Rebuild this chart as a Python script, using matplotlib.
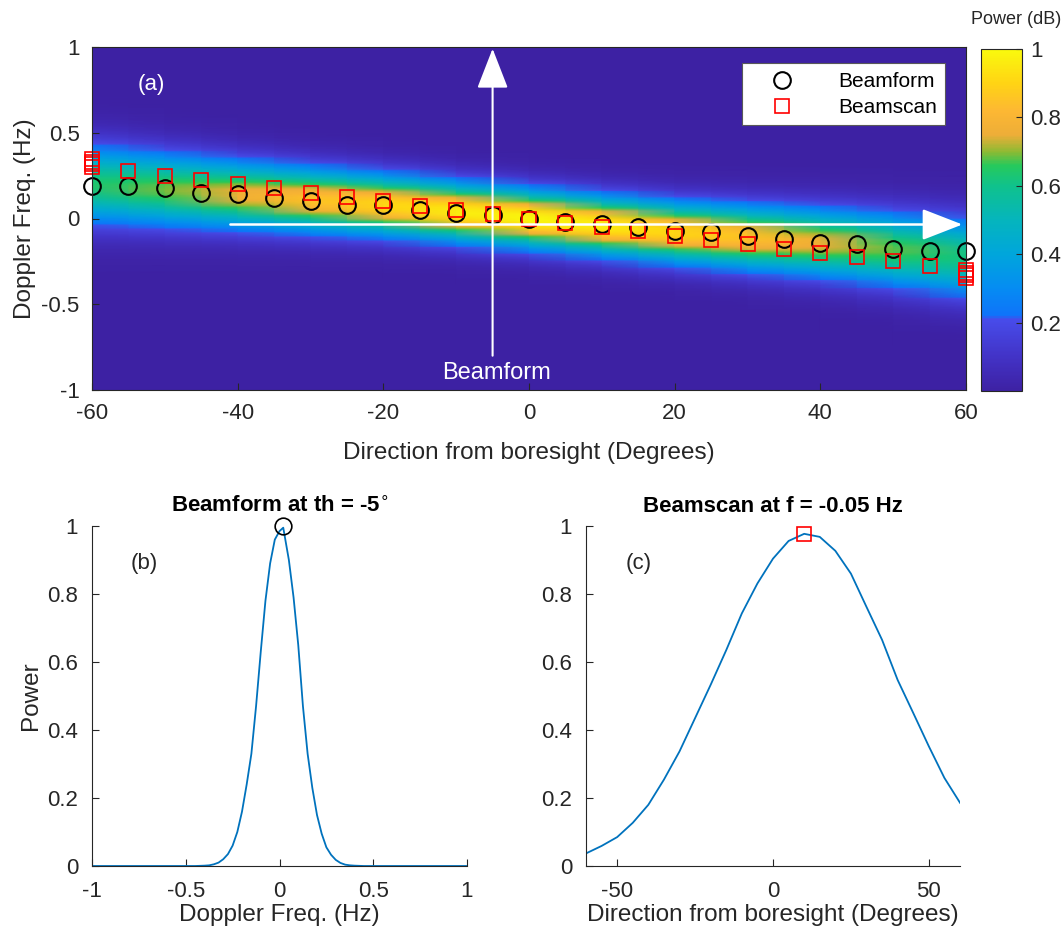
import numpy as np
import matplotlib
matplotlib.use("Agg")
import matplotlib.pyplot as plt
from matplotlib.colors import LinearSegmentedColormap

plt.rcParams['font.family'] = ['Liberation Sans', 'DejaVu Sans']
plt.rcParams['axes.unicode_minus'] = False

# ---- panel (a): ridge of the power map, one entry per 10 deg column ----
map_theta = [-60, -50, -40, -30, -20, -10, 0, 10, 20, 30, 40, 50, 60]
ridge_center = [0.20, 0.17, 0.14, 0.11, 0.08, 0.04, 0.0, -0.04, -0.08, -0.11, -0.14, -0.18, -0.23]
ridge_peak = [0.63, 0.69, 0.77, 0.85, 0.91, 0.97, 1.0, 0.97, 0.91, 0.85, 0.76, 0.68, 0.61]
ridge_width = [0.16, 0.148, 0.137, 0.128, 0.121, 0.117, 0.115, 0.117, 0.121, 0.128, 0.137, 0.148, 0.16]

# beamform maxima (circles)
bf_theta = [-60, -55, -50, -45, -40, -35, -30, -25, -20, -15, -10, -5, 0,
            5, 10, 15, 20, 25, 30, 35, 40, 45, 50, 55, 60]
bf_freq = [0.19, 0.19, 0.175, 0.15, 0.145, 0.12, 0.10, 0.077, 0.077, 0.05, 0.03, 0.02, 0.0,
           -0.02, -0.03, -0.05, -0.07, -0.08, -0.10, -0.12, -0.145, -0.15, -0.175, -0.19, -0.19]

# beamscan maxima (squares)
bs_theta = [-60, -60, -60, -60, -55, -50, -45, -40, -35, -30, -25, -20, -15, -10, -5, 0,
            5, 10, 15, 20, 25, 30, 35, 40, 45, 50, 55, 60, 60, 60, 60]
bs_freq = [0.345, 0.33, 0.315, 0.30, 0.275, 0.25, 0.225, 0.20, 0.175, 0.15, 0.125, 0.10,
           0.075, 0.05, 0.025, 0.0, -0.025, -0.05, -0.075, -0.10, -0.125, -0.15, -0.175,
           -0.20, -0.225, -0.25, -0.275, -0.30, -0.315, -0.33, -0.345]

# ---- panel (b): beamform at th = -5 ----
doppler_f = [-1.0, -0.45, -0.425, -0.4, -0.375, -0.35, -0.325, -0.3, -0.275, -0.25, -0.225,
             -0.2, -0.175, -0.15, -0.125, -0.1, -0.075, -0.05, -0.025, 0.0, 0.02, 0.05,
             0.075, 0.1, 0.125, 0.15, 0.175, 0.2, 0.225, 0.25, 0.275, 0.3, 0.325, 0.35,
             0.375, 0.4, 0.45, 1.0]
doppler_power = [0.0, 0.0, 0.0005, 0.001, 0.002, 0.005, 0.01, 0.02, 0.035, 0.06, 0.10,
                 0.16, 0.24, 0.33, 0.47, 0.63, 0.78, 0.89, 0.96, 0.985, 0.995, 0.90,
                 0.79, 0.65, 0.47, 0.33, 0.23, 0.15, 0.095, 0.055, 0.033, 0.018, 0.009,
                 0.004, 0.002, 0.001, 0.0, 0.0]
bf_peak_f = 0.02
bf_peak_p = 1.0

# ---- panel (c): beamscan at f = -0.05 Hz ----
scan_theta = [-60, -55, -50, -45, -40, -35, -30, -25, -20, -15, -10, -5, 0,
              5, 10, 15, 20, 25, 30, 35, 40, 45, 50, 55, 60]
scan_power = [0.037, 0.059, 0.085, 0.127, 0.18, 0.254, 0.337, 0.435, 0.533, 0.635, 0.743,
              0.831, 0.904, 0.956, 0.977, 0.968, 0.927, 0.86, 0.762, 0.665, 0.547, 0.45,
              0.352, 0.259, 0.186]
bs_peak_theta = 10
bs_peak_p = 0.977

# parula-like colormap as seen on the colorbar
cmap_pts = [(0.00, (0.24, 0.13, 0.64)), (0.10, (0.26, 0.20, 0.78)), (0.21, (0.28, 0.30, 0.92)),
            (0.22, (0.06, 0.45, 0.98)), (0.30, (0.02, 0.55, 0.95)), (0.40, (0.00, 0.65, 0.86)),
            (0.50, (0.02, 0.71, 0.74)), (0.60, (0.06, 0.76, 0.55)), (0.66, (0.15, 0.79, 0.36)),
            (0.70, (0.55, 0.73, 0.20)), (0.75, (0.93, 0.68, 0.22)), (0.82, (0.99, 0.72, 0.20)),
            (0.90, (1.00, 0.83, 0.08)), (1.00, (0.98, 0.98, 0.05))]
parula = LinearSegmentedColormap.from_list('parula_like', cmap_pts)

W, H = 1062, 939
TXT = (0.15, 0.15, 0.15)
LINE = (0.0, 0.447, 0.741)


def box(x0, y0, x1, y1):
    return [x0 / W, 1 - y1 / H, (x1 - x0) / W, (y1 - y0) / H]


def style_axes(ax, xpad=9, ypad=9):
    ax.tick_params(direction='in', length=5, width=0.8, colors=TXT, labelsize=16,
                   labelcolor=TXT)
    ax.tick_params(axis='x', pad=xpad)
    ax.tick_params(axis='y', pad=ypad)
    for s in ax.spines.values():
        s.set_color(TXT)
        s.set_linewidth(0.8)


def main():
    fig = plt.figure(figsize=(W / 100, H / 100), dpi=100)

    # ---------------- (a) ----------------
    ax = fig.add_axes(box(92, 47, 966, 390))
    f_rows = np.linspace(-1, 1, 401)
    F = f_rows[:, None]
    C = np.array(ridge_center)[None, :]
    P = np.array(ridge_peak)[None, :]
    S = np.array(ridge_width)[None, :]
    pmap = P * np.exp(-0.5 * ((F - C) / S) ** 2)
    mesh = ax.pcolormesh(map_theta, f_rows, pmap, shading='gouraud', cmap=parula,
                         vmin=0, vmax=1, rasterized=True)
    ax.plot(bf_theta, bf_freq, 'o', ms=12, mfc='none', mec='k', mew=1.5,
            label='Beamform', clip_on=False)
    ax.plot(bs_theta, bs_freq, 's', ms=10, mfc='none', mec='red', mew=1.2,
            label='Beamscan', clip_on=False)

    ax.annotate('', xy=(-5, 0.99), xytext=(-5, -0.8),
                arrowprops=dict(arrowstyle='-|>,head_length=0.9,head_width=0.35',
                                color='white', lw=1.5, mutation_scale=28, shrinkA=0, shrinkB=0))
    ax.annotate('', xy=(59.5, -0.035), xytext=(-41, -0.035),
                arrowprops=dict(arrowstyle='-|>,head_length=0.9,head_width=0.35',
                                color='white', lw=1.8, mutation_scale=28, shrinkA=0, shrinkB=0))
    ax.text(-4.5, -0.9, 'Beamform', color='white', fontsize=17, ha='center', va='center')
    ax.text(-51.8, 0.78, '(a)', color='white', fontsize=16, ha='center', va='center')

    ax.set_xlim(-60, 60)
    ax.set_ylim(-1, 1)
    ax.set_xticks([-60, -40, -20, 0, 20, 40, 60])
    ax.set_yticks([-1, -0.5, 0, 0.5, 1])
    ax.set_yticklabels(['-1', '-0.5', '0', '0.5', '1'])
    style_axes(ax, xpad=9, ypad=9)
    ax.set_xlabel('Direction from boresight (Degrees)', fontsize=17.5, color=TXT, labelpad=13)
    ax.set_ylabel('Doppler Freq. (Hz)', fontsize=17.5, color=TXT, labelpad=4)
    leg = ax.legend(loc='upper right', bbox_to_anchor=(0.976, 0.952), fontsize=15,
                    fancybox=False, framealpha=1, edgecolor='0.35', borderpad=0.4,
                    handlelength=3.0, handletextpad=1.2, labelspacing=0.35,
                    borderaxespad=0)
    leg.get_frame().set_linewidth(0.8)

    cax = fig.add_axes(box(981, 49, 1022, 391))
    cb = fig.colorbar(mesh, cax=cax)
    cb.set_ticks([0.2, 0.4, 0.6, 0.8, 1.0])
    cb.set_ticklabels(['0.2', '0.4', '0.6', '0.8', '1'])
    cb.outline.set_edgecolor(TXT)
    cb.outline.set_linewidth(0.8)
    cax.tick_params(direction='in', length=4, colors=TXT, labelsize=16, pad=6)
    fig.text(1016 / W, 1 - 20 / H, 'Power (dB)', fontsize=13, color=TXT, ha='center', va='center')

    # ---------------- (b) ----------------
    axb = fig.add_axes(box(92, 526, 467, 866))
    axb.plot(doppler_f, doppler_power, color=LINE, lw=1.3)
    axb.plot([bf_peak_f], [bf_peak_p], 'o', ms=12, mfc='none', mec='k', mew=1.2, clip_on=False)
    axb.set_xlim(-1, 1)
    axb.set_ylim(0, 1)
    axb.set_xticks([-1, -0.5, 0, 0.5, 1])
    axb.set_xticklabels(['-1', '-0.5', '0', '0.5', '1'])
    axb.set_yticks([0, 0.2, 0.4, 0.6, 0.8, 1])
    axb.set_yticklabels(['0', '0.2', '0.4', '0.6', '0.8', '1'])
    axb.spines['top'].set_visible(False)
    axb.spines['right'].set_visible(False)
    style_axes(axb, xpad=11, ypad=10)
    axb.text(-0.72, 0.89, '(b)', fontsize=16, color=TXT, ha='center', va='center')
    axb.set_title(r'Beamform at th = -5$^{\circ}$', fontsize=16, fontweight='bold', pad=10)
    axb.set_xlabel('Doppler Freq. (Hz)', fontsize=17.5, color=TXT, labelpad=1)
    axb.set_ylabel('Power', fontsize=17.5, color=TXT, labelpad=4)

    # ---------------- (c) ----------------
    axc = fig.add_axes(box(586, 526, 960, 866))
    axc.plot(scan_theta, scan_power, color=LINE, lw=1.3)
    axc.plot([bs_peak_theta], [bs_peak_p], 's', ms=10, mfc='none', mec='red', mew=1.2,
             clip_on=False)
    axc.set_xlim(-60, 60)
    axc.set_ylim(0, 1)
    axc.set_xticks([-50, 0, 50])
    axc.set_yticks([0, 0.2, 0.4, 0.6, 0.8, 1])
    axc.set_yticklabels(['0', '0.2', '0.4', '0.6', '0.8', '1'])
    axc.spines['top'].set_visible(False)
    axc.spines['right'].set_visible(False)
    style_axes(axc, xpad=11, ypad=10)
    axc.text(-43, 0.89, '(c)', fontsize=16, color=TXT, ha='center', va='center')
    axc.set_title('Beamscan at f = -0.05 Hz', fontsize=16, fontweight='bold', pad=10)
    axc.set_xlabel('Direction from boresight (Degrees)', fontsize=17.5, color=TXT, labelpad=1)

    fig.savefig('out.png', dpi=100)


if __name__ == "__main__":
    main()
